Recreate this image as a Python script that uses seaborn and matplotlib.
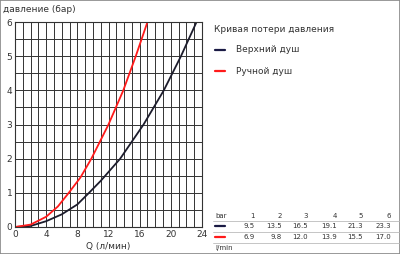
import matplotlib
matplotlib.use("Agg")
import matplotlib.pyplot as plt
import seaborn as sns
import pandas as pd
from matplotlib.lines import Line2D
from matplotlib.patches import Rectangle

sns.set_style("white")
plt.rcParams['font.family'] = ['DejaVu Sans']

# Data
upper_q = [0, 2, 4, 6, 8, 9.5, 11, 13.5, 16.5, 19.1, 21.3, 23.3]
upper_p = [0, 0.03, 0.17, 0.37, 0.66, 1, 1.35, 2, 3, 4, 5, 6]
hand_q = [0, 2, 4, 5.5, 6.9, 8.4, 9.8, 12.0, 13.9, 15.5, 17.0]
hand_p = [0, 0.07, 0.3, 0.6, 1, 1.45, 2, 3, 4, 5, 6]
series_names = ["Верхний душ", "Ручной душ"]
series_colors = ["#1c1c2c", "#ff1a1a"]
table_bar = ["1", "2", "3", "4", "5", "6"]
table_upper = ["9.5", "13.5", "16.5", "19.1", "21.3", "23.3"]
table_hand = ["6.9", "9.8", "12.0", "13.9", "15.5", "17.0"]

df = pd.concat([
    pd.DataFrame({"Q": upper_q, "P": upper_p, "s": series_names[0]}),
    pd.DataFrame({"Q": hand_q, "P": hand_p, "s": series_names[1]}),
])

W, H = 400, 254
fig = plt.figure(figsize=(W / 100, H / 100), dpi=100)
ax = fig.add_axes([15 / W, 1 - 227 / H, 187 / W, 205 / H])

sns.lineplot(data=df, x="Q", y="P", hue="s", palette=series_colors,
             ax=ax, legend=False, linewidth=1.3, sort=False, estimator=None)

ax.set_xlim(0, 24)
ax.set_ylim(0, 6)
ax.set_xticks(range(0, 25, 4))
ax.set_yticks(range(0, 7))
ax.set_xticks(range(0, 25), minor=True)
ax.set_yticks([i * 0.5 for i in range(13)], minor=True)
ax.grid(which="both", color="#333333", linewidth=0.7)
ax.set_axisbelow(True)
ax.tick_params(which="both", length=0, labelsize=6.5, colors="#333333", pad=2)
for sp in ax.spines.values():
    sp.set_color("#333333")
    sp.set_linewidth(0.8)
ax.set_xlabel("")
ax.set_ylabel("")

txt = "#333333"
fig.text(3 / W, 1 - 9 / H, "давление (бар)", fontsize=6.5, color=txt, va="center")
fig.text(108 / W, 1 - 246 / H, "Q (л/мин)", fontsize=6.5, color=txt, va="center", ha="center")

# legend
fig.text(214 / W, 1 - 29 / H, "Кривая потери давления", fontsize=6.5, color=txt, va="center")
for i, (name, col) in enumerate(zip(series_names, series_colors)):
    y = 1 - (50 + 21 * i) / H
    fig.add_artist(Line2D([215 / W, 225 / W], [y, y], color=col if i else "#1a1a44",
                          linewidth=1.6, transform=fig.transFigure))
    fig.text(236 / W, y, name, fontsize=6.5, color=txt, va="center")

# table
fs = 5
xs = [253, 280, 306, 335, 361, 389]
fig.text(215 / W, 1 - 216 / H, "bar", fontsize=fs, color=txt, va="center")
for x, b in zip(xs, table_bar):
    fig.text((x + 2) / W, 1 - 216 / H, b, fontsize=fs, color=txt, va="center", ha="right")
for x, v in zip(xs, table_upper):
    fig.text((x + 2) / W, 1 - 226 / H, v, fontsize=fs, color=txt, va="center", ha="right")
for x, v in zip(xs, table_hand):
    fig.text((x + 2) / W, 1 - 237 / H, v, fontsize=fs, color=txt, va="center", ha="right")
fig.add_artist(Line2D([215 / W, 225 / W], [1 - 226 / H] * 2, color="#1a1a44",
                      linewidth=1.6, transform=fig.transFigure))
fig.add_artist(Line2D([215 / W, 225 / W], [1 - 237 / H] * 2, color="#ff1a1a",
                      linewidth=1.6, transform=fig.transFigure))
for yy in [221, 231.5, 242.5]:
    fig.add_artist(Line2D([213 / W, 399 / W], [1 - yy / H] * 2, color="#bbbbbb",
                          linewidth=0.6, transform=fig.transFigure))
fig.text(215 / W, 1 - 248 / H, "l/min", fontsize=fs, color=txt, va="center")

# outer frame
fig.add_artist(Rectangle((0, 0), 1, 1, transform=fig.transFigure, fill=False,
                         edgecolor="#888888", linewidth=1.2))

fig.savefig("out.png", dpi=100)
